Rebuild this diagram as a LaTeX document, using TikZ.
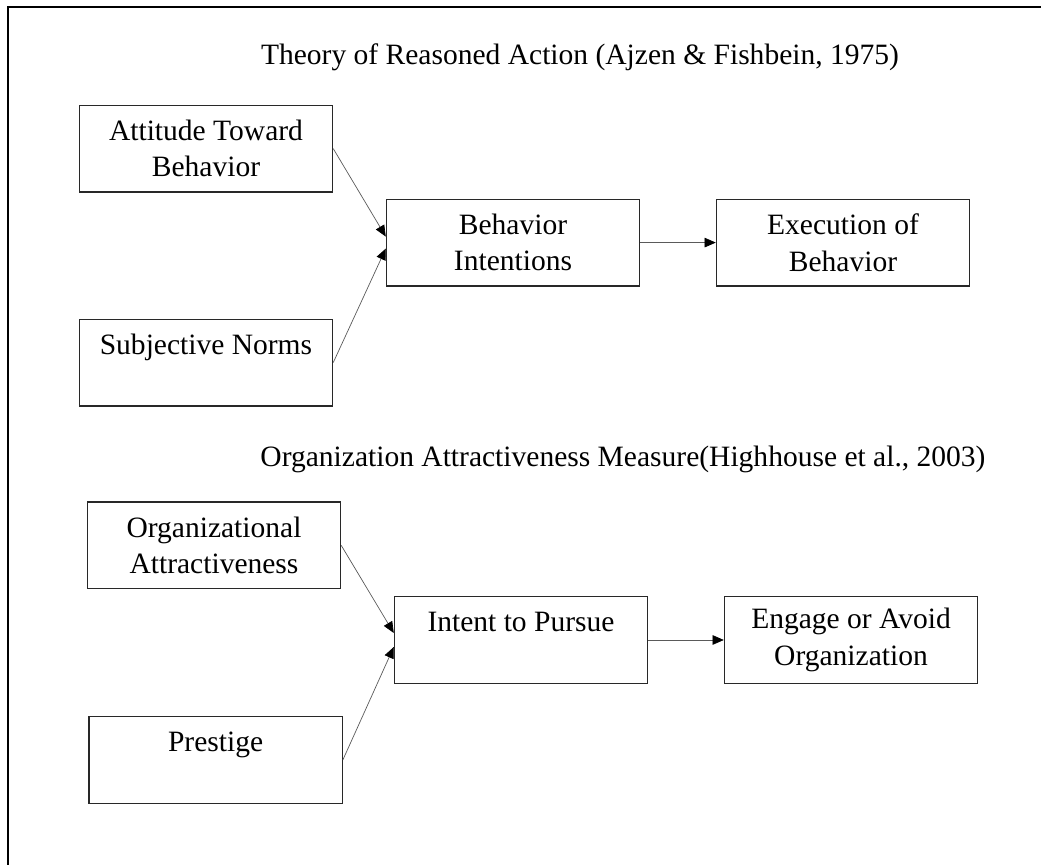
\documentclass[tikz,border=0pt]{standalone}
\usepackage{fontspec}
\setmainfont{Liberation Serif}
\usetikzlibrary{arrows.meta,positioning}
\definecolor{linkGray}{RGB}{90,90,90}
\definecolor{boxLine}{RGB}{40,40,40}

\begin{document}
\begin{tikzpicture}[
  font=\fontsize{21}{26}\selectfont,
  >={Triangle[length=2.8mm,width=2.4mm,black]},
  box/.style={
    draw=boxLine,
    line width=0.9pt,
    align=center,
    inner sep=2pt,
    minimum width=6.33cm,
    minimum height=2.17cm,
  },
  link/.style={
    ->,
    draw=linkGray,
    line width=0.5pt,
  },
]

  \useasboundingbox (0,0) rectangle (26.025,21.625);
  \draw[line width=1.5pt] (0.2,0) -- (0.2,21.45) -- (26.025,21.45);

  % upper model
  \node (tra) at (14.5,20.2)
    {Theory of Reasoned Action (Ajzen \& Fishbein, 1975)};

  \node[box] (att) at (5.15,17.91) {Attitude Toward\\Behavior};
  \node[box] (norm) at (5.15,12.56) {Subjective Norms\\~};
  \node[box] (bint) at (12.825,15.56) {Behavior\\Intentions};
  \node[box] (exec) at (21.075,15.56) {Execution of\\Behavior};

  \draw[link] (att.east) -- ([yshift=1.5mm] bint.west);
  \draw[link] (norm.east) -- ([yshift=-1.5mm] bint.west);
  \draw[link] (bint) -- (exec);

  % lower model
  \node (oam) at (15.575,10.15)
    {Organization Attractiveness Measure(Highhouse et al., 2003)};

  \node[box] (orga) at (5.35,7.99) {Organizational\\Attractiveness};
  \node[box] (pres) at (5.39,2.625) {Prestige\\~};
  \node[box] (purs) at (13.025,5.625) {Intent to Pursue\\~};
  \node[box] (enga) at (21.275,5.625) {Engage or Avoid\\Organization};

  \draw[link] (orga.east) -- ([yshift=1.75mm] purs.west);
  \draw[link] (pres.east) -- ([yshift=-1.75mm] purs.west);
  \draw[link] (purs) -- (enga);

\end{tikzpicture}
\end{document}
